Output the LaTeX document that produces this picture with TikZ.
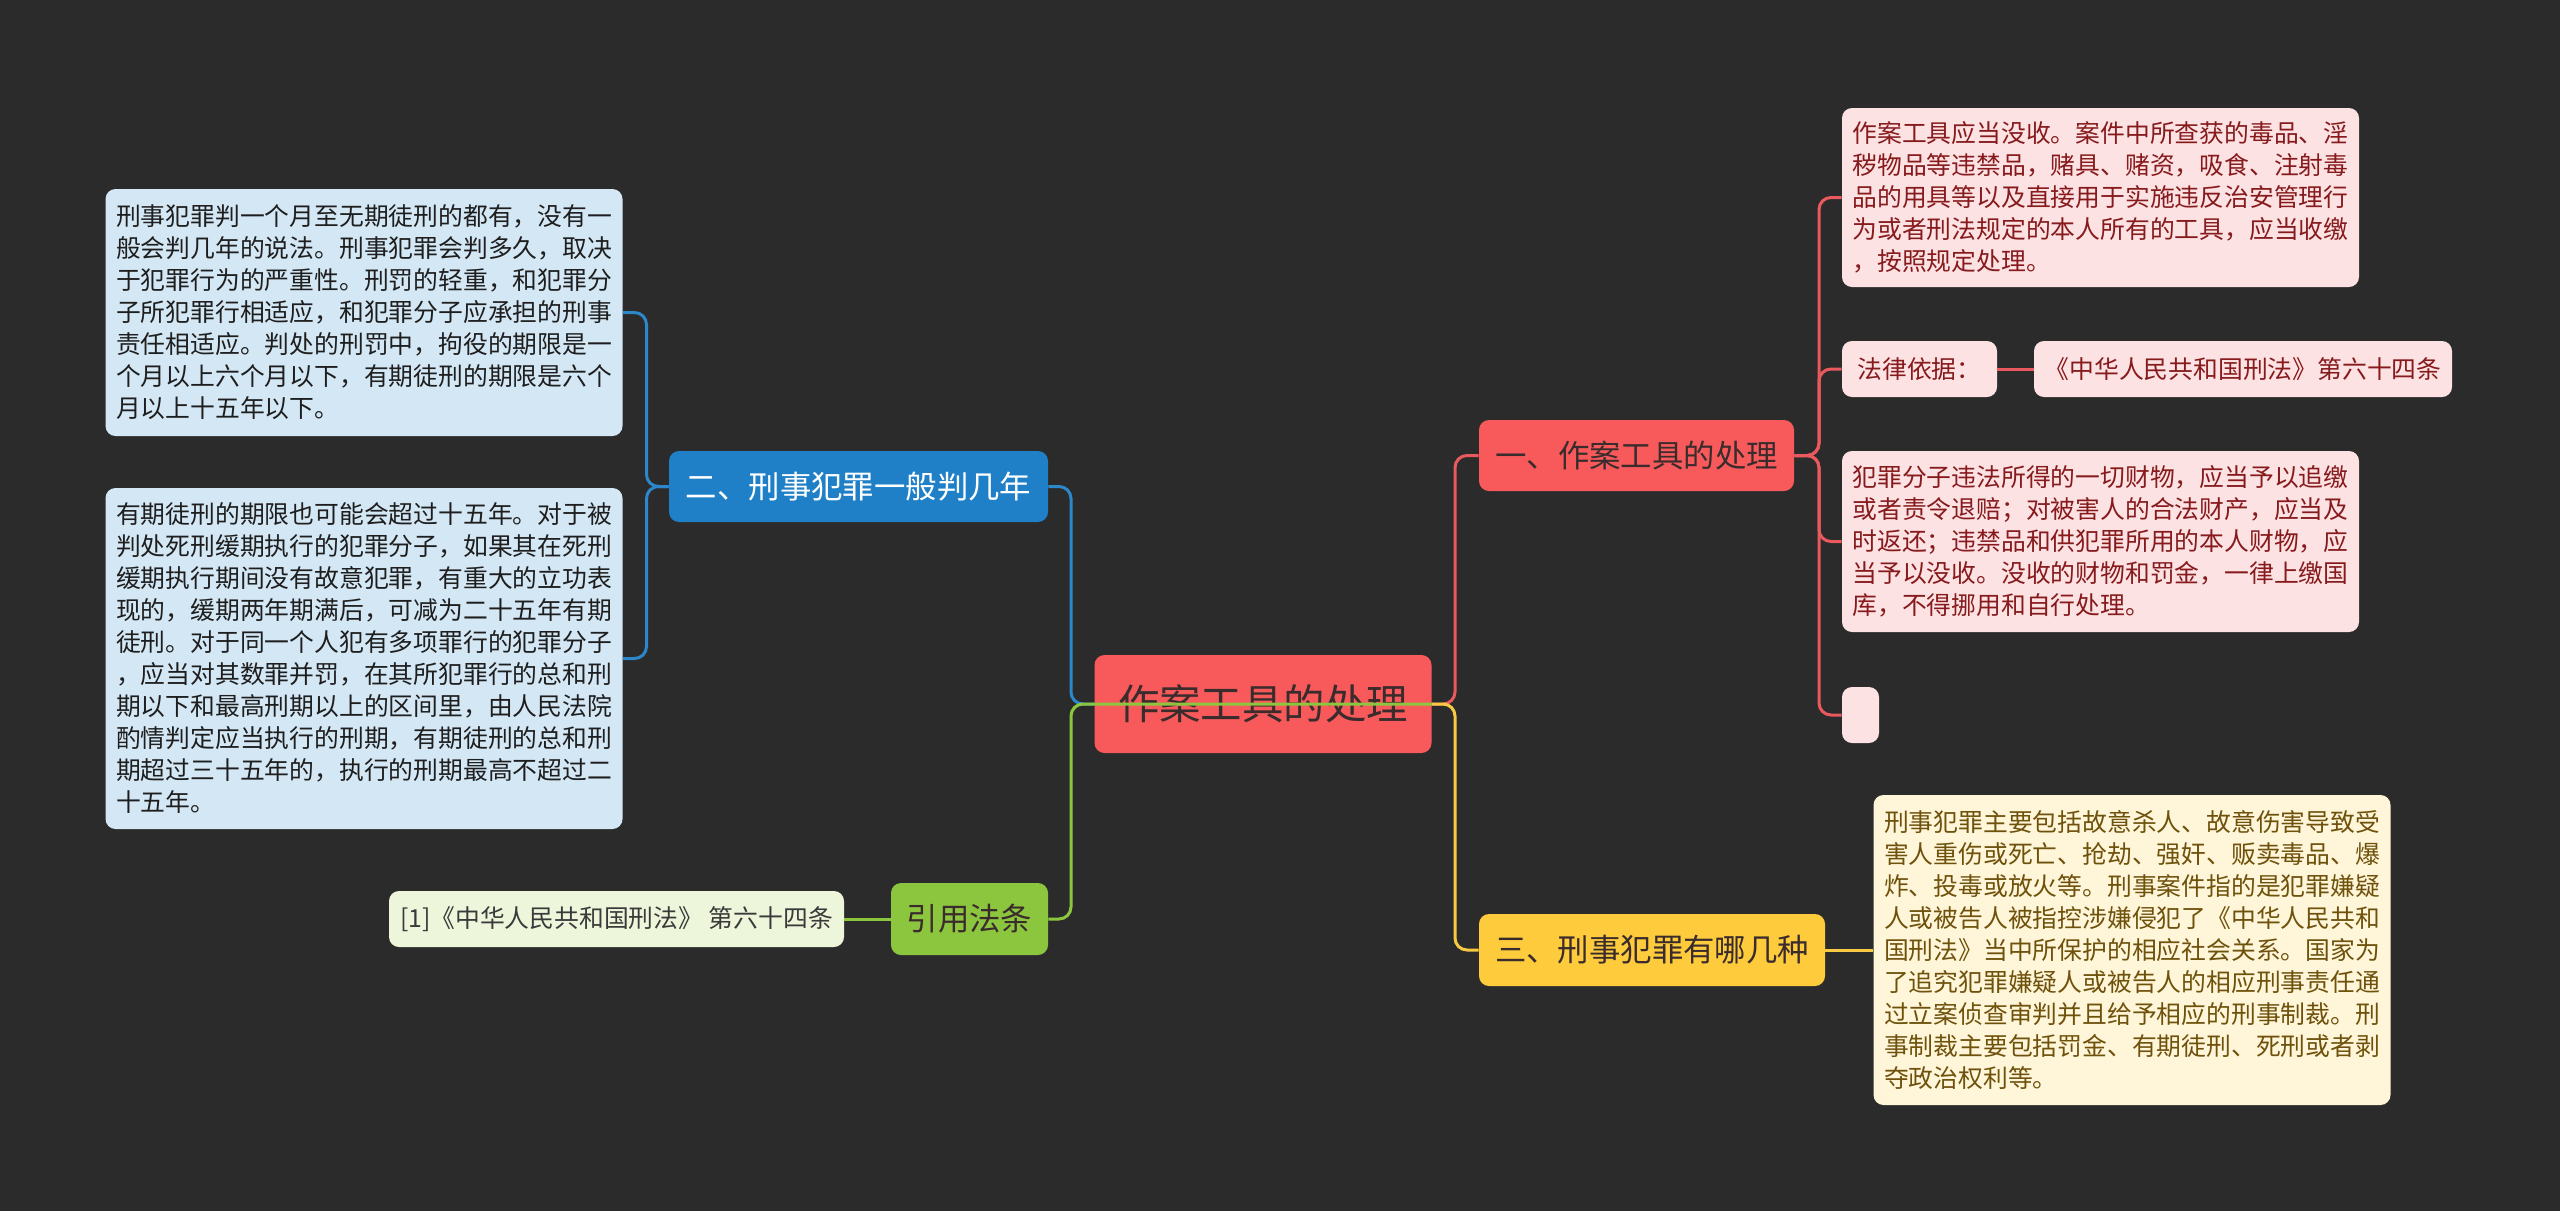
\documentclass[tikz,border=0pt]{standalone}
\usepackage{fontspec}
\setmainfont{Noto Sans CJK SC}

\definecolor{bgcol}{HTML}{2B2B2B}
\definecolor{darktext}{HTML}{3A2C2C}
\definecolor{redm}{HTML}{F85A5C}
\definecolor{redl}{HTML}{FDE2E3}
\definecolor{redt}{HTML}{861A1C}
\definecolor{redline}{HTML}{E9595D}
\definecolor{yelm}{HTML}{FDCB3C}
\definecolor{yell}{HTML}{FFF5D8}
\definecolor{yelt}{HTML}{6E520C}
\definecolor{yelline}{HTML}{F8CA43}
\definecolor{bluem}{HTML}{1F80C8}
\definecolor{bluel}{HTML}{D4E7F5}
\definecolor{bluet}{HTML}{1E1E1E}
\definecolor{blueline}{HTML}{2C87CB}
\definecolor{greenm}{HTML}{8CC63E}
\definecolor{greenl}{HTML}{EDF6DB}
\definecolor{greent}{HTML}{3A3A3A}
\definecolor{greenline}{HTML}{8CC63E}

\begin{document}
\begin{tikzpicture}[x=0.5pt, y=-0.5pt,
    box/.style={rounded corners=5pt, inner sep=2pt, align=center},
    main/.style={box, minimum height=35.5pt, font=\fontsize{15.7pt}{18pt}\selectfont},
    leaf/.style={box, align=left, text width=248pt, inner xsep=5.25pt, font=\fontsize{12.4pt}{16pt}\selectfont},
    tag/.style={box, minimum height=28pt, font=\fontsize{12.4pt}{16pt}\selectfont},
    link/.style={line width=1.5pt, rounded corners=6pt}]

    \fill[bgcol] (0,0) rectangle (2560,1211);
    \useasboundingbox (0,0) rectangle (2560,1211);

    % Root
    \node[main, fill=redm, text=darktext, minimum width=168.5pt, minimum height=49pt,
        font=\fontsize{20.7pt}{24pt}\selectfont] (root) at (1263,704) {作案工具的处理};

    % Branch one
    \node[main, fill=redm, text=darktext, minimum width=157.5pt] (one) at (1636.5,455.5) {一、作案工具的处理};
    \node[leaf, fill=redl, text=redt, minimum height=89.5pt] (tool) at (2100.5,197.5) {作案工具应当没收。案件中所查获的毒品、淫\\秽物品等违禁品，赌具、赌资，吸食、注射毒\\品的用具等以及直接用于实施违反治安管理行\\为或者刑法规定的本人所有的工具，应当收缴\\，按照规定处理。};
    \node[tag, fill=redl, text=redt, minimum width=77.5pt] (basis) at (1919.5,369) {法律依据：};
    \node[tag, fill=redl, text=redt, minimum width=209pt] (law) at (2243,369) {《中华人民共和国刑法》第六十四条};
    \node[leaf, fill=redl, text=redt, minimum height=90.5pt] (gain) at (2100.5,541.5) {犯罪分子违法所得的一切财物，应当予以追缴\\或者责令退赔；对被害人的合法财产，应当及\\时返还；违禁品和供犯罪所用的本人财物，应\\当予以没收。没收的财物和罚金，一律上缴国\\库，不得挪用和自行处理。};
    \node[tag, fill=redl, minimum width=18.5pt] (blank) at (1860.5,715) {};

    % Branch three
    \node[main, fill=yelm, text=darktext, minimum width=173pt, minimum height=36pt] (three) at (1652,950) {三、刑事犯罪有哪几种};
    \node[leaf, fill=yell, text=yelt, minimum height=155pt] (kinds) at (2132,950) {刑事犯罪主要包括故意杀人、故意伤害导致受\\害人重伤或死亡、抢劫、强奸、贩卖毒品、爆\\炸、投毒或放火等。刑事案件指的是犯罪嫌疑\\人或被告人被指控涉嫌侵犯了《中华人民共和\\国刑法》当中所保护的相应社会关系。国家为\\了追究犯罪嫌疑人或被告人的相应刑事责任通\\过立案侦查审判并且给予相应的刑事制裁。刑\\事制裁主要包括罚金、有期徒刑、死刑或者剥\\夺政治权利等。};

    % Branch two
    \node[main, fill=bluem, text=white, minimum width=189.5pt] (two) at (858.5,486.5) {二、刑事犯罪一般判几年};
    \node[leaf, fill=bluel, text=bluet, minimum height=123.5pt] (term) at (364,312.5) {刑事犯罪判一个月至无期徒刑的都有，没有一\\般会判几年的说法。刑事犯罪会判多久，取决\\于犯罪行为的严重性。刑罚的轻重，和犯罪分\\子所犯罪行相适应，和犯罪分子应承担的刑事\\责任相适应。判处的刑罚中，拘役的期限是一\\个月以上六个月以下，有期徒刑的期限是六个\\月以上十五年以下。};
    \node[leaf, fill=bluel, text=bluet, minimum height=170.5pt] (extra) at (364,658.5) {有期徒刑的期限也可能会超过十五年。对于被\\判处死刑缓期执行的犯罪分子，如果其在死刑\\缓期执行期间没有故意犯罪，有重大的立功表\\现的，缓期两年期满后，可减为二十五年有期\\徒刑。对于同一个人犯有多项罪行的犯罪分子\\，应当对其数罪并罚，在其所犯罪行的总和刑\\期以下和最高刑期以上的区间里，由人民法院\\酌情判定应当执行的刑期，有期徒刑的总和刑\\期超过三十五年的，执行的刑期最高不超过二\\十五年。};

    % Cited law
    \node[main, fill=greenm, text=darktext, minimum width=78.5pt, minimum height=36pt] (cite) at (969.5,919) {引用法条};
    \node[tag, fill=greenl, text=greent, minimum width=227.5pt] (ref) at (616.5,919) {[1]《中华人民共和国刑法》 第六十四条};

    % Connectors
    \coordinate (jr) at (1455,704);
    \coordinate (jm) at (1819,455.5);
    \coordinate (jl) at (1071,704);
    \coordinate (jb) at (646.5,486.5);

    \draw[link, redline] (root.east) -- (jr) |- (one.west);
    \draw[link, yelline] (root.east) -- (jr) |- (three.west);
    \foreach \leaf in {tool,basis,gain,blank}
        \draw[link, redline] (one.east) -- (jm) |- (\leaf.west);
    \draw[link, redline] (basis.east) -- (law.west);
    \draw[link, yelline] (three.east) -- (kinds.west);

    \draw[link, blueline] (root.west) -- (jl) |- (two.east);
    \draw[link, greenline] (root.east) -- (jl) |- (cite.east);
    \foreach \leaf in {term,extra}
        \draw[link, blueline] (two.west) -- (jb) |- (\leaf.east);
    \draw[link, greenline] (cite.west) -- (ref.east);
\end{tikzpicture}
\end{document}
